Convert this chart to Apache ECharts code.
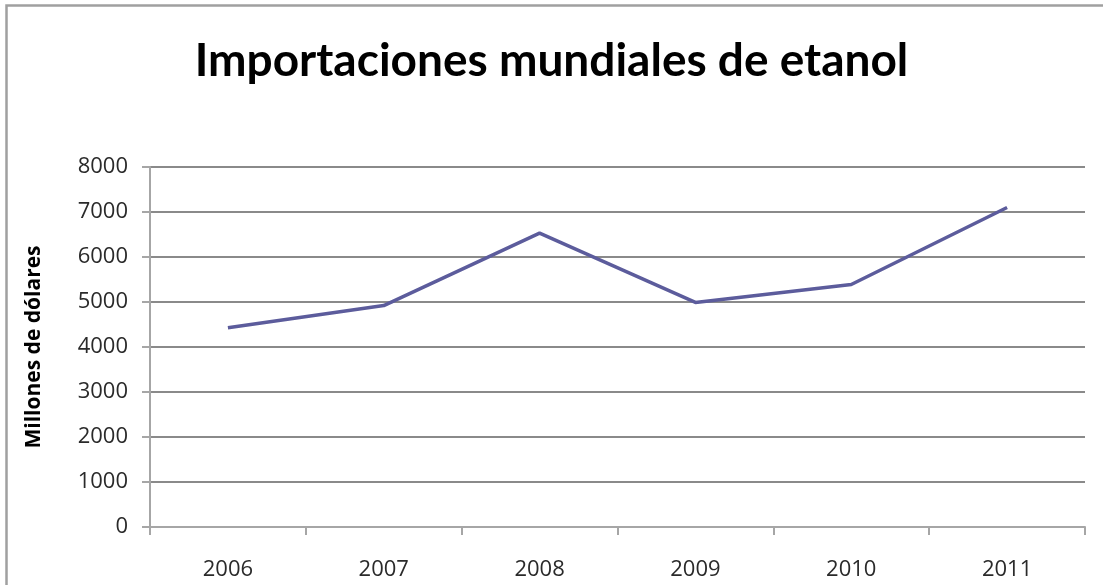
<!DOCTYPE html>
<html>
<head>
<meta charset="utf-8">
<script src="https://cdn.jsdelivr.net/npm/echarts@6/dist/echarts.min.js"></script>
<style>
  html, body { margin: 0; padding: 0; background: #fff; }
  #chart { width: 1103px; height: 585px; }
</style>
</head>
<body>
<div id="chart"></div>
<script>
// datos
const years = ['2006', '2007', '2008', '2009', '2010', '2011']
const imports = [4430, 4920, 6530, 4990, 5390, 7100]
const yTicks = { min: 0, max: 8000, step: 1000 }

const chart = echarts.init(document.getElementById('chart'))
chart.setOption({
  animation: false,
  backgroundColor: '#fff',
  graphic: [
    { // marco: solo borde superior e izquierdo visibles
      type: 'polyline',
      shape: { points: [[6.5, 600], [6.5, 5.5], [1110, 5.5]] },
      style: { fill: 'none', stroke: '#a0a0a0', lineWidth: 2.5 },
      silent: true
    }
  ],
  title: {
    text: 'Importaciones mundiales de etanol',
    left: 'center',
    top: 33,
    textStyle: {
      fontFamily: 'Lato',
      fontWeight: 'bold',
      fontSize: 46,
      color: '#000'
    }
  },
  grid: { left: 150, right: 18, top: 167, bottom: 58 },
  xAxis: {
    type: 'category',
    data: years,
    boundaryGap: true,
    axisLine: { lineStyle: { color: '#a6a6a6', width: 2 } },
    axisTick: { show: true, length: 8, lineStyle: { color: '#a6a6a6', width: 2 } },
    axisLabel: { margin: 32, fontSize: 22, color: '#2a2a2a', fontFamily: 'Open Sans' }
  },
  yAxis: {
    type: 'value',
    min: yTicks.min,
    max: yTicks.max,
    interval: yTicks.step,
    name: 'Millones de dólares',
    nameLocation: 'middle',
    nameGap: 105,
    nameRotate: 90,
    nameTextStyle: { fontSize: 21, fontWeight: 'bold', color: '#000', fontFamily: 'Open Sans' },
    axisLine: { show: true, lineStyle: { color: '#a6a6a6', width: 2 } },
    axisTick: { show: true, length: 8, lineStyle: { color: '#a6a6a6', width: 2 } },
    axisLabel: {
      margin: 22,
      fontSize: 22,
      color: '#2a2a2a',
      fontFamily: 'Open Sans',
      formatter: v => String(v)
    },
    splitLine: { show: true, lineStyle: { color: '#8a8a8a', width: 2 } }
  },
  series: [
    {
      name: 'Importaciones',
      type: 'line',
      data: imports,
      symbol: 'none',
      lineStyle: { color: '#5c5c9c', width: 3.5 },
      itemStyle: { color: '#5c5c9c' }
    }
  ]
})
</script>
</body>
</html>
